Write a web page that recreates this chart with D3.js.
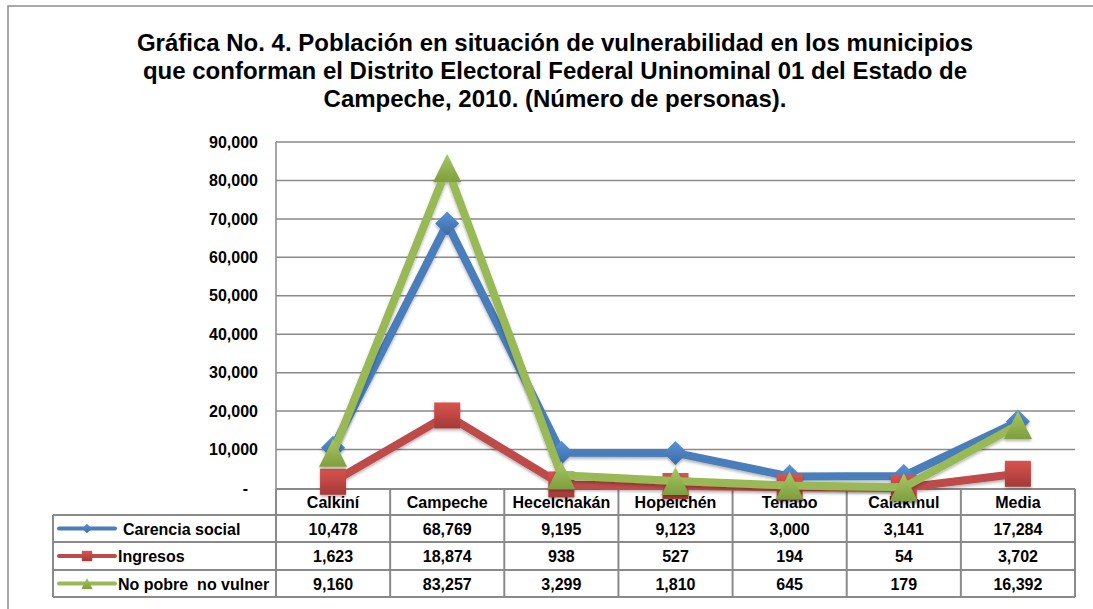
<!DOCTYPE html>
<html>
<head>
<meta charset="utf-8">
<script src="https://cdn.jsdelivr.net/npm/d3@7"></script>
<style>
  body { margin: 0; background: #fff; }
  svg text { font-family: "Liberation Sans", Arial, sans-serif; font-weight: bold; fill: #000; }
</style>
</head>
<body>
<script>

// data
var categories = ["Calkiní", "Campeche", "Hecelchakán", "Hopelchén", "Tenabo", "Calakmul", "Media"];
var carencia = [10478, 68769, 9195, 9123, 3000, 3141, 17284];
var ingresos = [1623, 18874, 938, 527, 194, 54, 3702];
var noPobre = [9160, 83257, 3299, 1810, 645, 179, 16392];
var seriesNames = ["Carencia social", "Ingresos", "No pobre  no vulner"];
var yTicks = [0, 10000, 20000, 30000, 40000, 50000, 60000, 70000, 80000, 90000];
var titleLines = [
    "Gráfica No. 4. Población en situación de vulnerabilidad en los municipios",
    "que conforman el Distrito Electoral Federal Uninominal 01 del Estado de",
    "Campeche, 2010. (Número de personas)."
];

var w = 1093, h = 609;
var plot = {left: 276, right: 1075, top: 142, bottom: 488};
var tableLeft = 53;
var rowY = [489, 515, 542, 570, 597];

var series = [
    {name: seriesNames[0], values: carencia, line: "#4a7ebb", light: "#5b93d6", dark: "#3a6aa6", shape: "diamond"},
    {name: seriesNames[1], values: ingresos, line: "#be4b48", light: "#d9534f", dark: "#a33a37", shape: "square"},
    {name: seriesNames[2], values: noPobre, line: "#98b954", light: "#a6c863", dark: "#7f9e3e", shape: "triangle"}
];

var svg = d3.select("body").append("svg")
    .attr("width", w)
    .attr("height", h);

var defs = svg.append("defs");

series.forEach(function(s, i) {
    var g = defs.append("linearGradient")
        .attr("id", "grad" + i)
        .attr("x1", 0).attr("y1", 0).attr("x2", 0).attr("y2", 1);
    g.append("stop").attr("offset", "0%").attr("stop-color", s.light);
    g.append("stop").attr("offset", "100%").attr("stop-color", s.dark);
});

var shadow = defs.append("filter").attr("id", "shadow")
    .attr("x", "-20%").attr("y", "-20%").attr("width", "140%").attr("height", "140%");
shadow.append("feDropShadow")
    .attr("dx", 0).attr("dy", 2).attr("stdDeviation", 1.5)
    .attr("flood-color", "#000").attr("flood-opacity", 0.3);

// outer frame
svg.append("rect")
    .attr("x", 8).attr("y", 6)
    .attr("width", w).attr("height", h)
    .attr("fill", "none")
    .attr("stroke", "#8c8c8c")
    .attr("stroke-width", 1.5);

// title
svg.append("g").selectAll("text")
    .data(titleLines)
    .enter()
    .append("text")
    .attr("x", 555)
    .attr("y", function(d, i) { return 51 + i * 28; })
    .attr("text-anchor", "middle")
    .style("font-size", "24px")
    .text(function(d) { return d; });

var xScale = d3.scaleBand()
    .domain(categories)
    .range([plot.left, plot.right]);

var yScale = d3.scaleLinear()
    .domain([0, 90000])
    .range([plot.bottom, plot.top]);

// gridlines
svg.append("g").selectAll("line")
    .data(yTicks.slice(1))
    .enter()
    .append("line")
    .attr("x1", plot.left).attr("x2", plot.right)
    .attr("y1", function(d) { return yScale(d); })
    .attr("y2", function(d) { return yScale(d); })
    .attr("stroke", "#8a8a8a")
    .attr("stroke-width", 1.5);

// y axis
var yAxis = d3.axisLeft(yScale)
    .tickValues(yTicks)
    .tickSize(0)
    .tickPadding(18)
    .tickFormat(function(d) { return d === 0 ? "-" : d3.format(",")(d); });

var yAxisG = svg.append("g")
    .attr("transform", "translate(" + plot.left + ",0)")
    .call(yAxis);
yAxisG.select(".domain").remove();
yAxisG.selectAll("text")
    .style("font-size", "16px")
    .style("font-family", "'Liberation Sans', Arial, sans-serif")
    .style("font-weight", "bold")
    .attr("fill", "#000");
yAxisG.selectAll(".tick")
    .filter(function(d) { return d === 0; })
    .select("text")
    .attr("x", -28);

svg.append("line")
    .attr("x1", plot.left).attr("x2", plot.left)
    .attr("y1", plot.top).attr("y2", rowY[0])
    .attr("stroke", "#8a8a8a")
    .attr("stroke-width", 1.5);

// data table
var table = svg.append("g");
var border = "#8a8a8a";

// horizontal rules
rowY.forEach(function(y, i) {
    table.append("line")
        .attr("x1", i === 0 ? plot.left : tableLeft)
        .attr("x2", plot.right)
        .attr("y1", y).attr("y2", y)
        .attr("stroke", border)
        .attr("stroke-width", 2);
});

// vertical rules
var colEdges = categories.map(function(c) { return xScale(c); }).concat([plot.right]);
colEdges.forEach(function(x) {
    table.append("line")
        .attr("x1", x).attr("x2", x)
        .attr("y1", rowY[0]).attr("y2", rowY[4])
        .attr("stroke", border)
        .attr("stroke-width", 2);
});
table.append("line")
    .attr("x1", tableLeft).attr("x2", tableLeft)
    .attr("y1", rowY[1]).attr("y2", rowY[4])
    .attr("stroke", border)
    .attr("stroke-width", 2);

// header labels
table.selectAll(".cat")
    .data(categories)
    .enter()
    .append("text")
    .attr("class", "cat")
    .attr("x", function(d) { return xScale(d) + xScale.bandwidth() / 2; })
    .attr("y", rowY[0] + 19)
    .attr("text-anchor", "middle")
    .style("font-size", "16px")
    .text(function(d) { return d; });

// value cells + legend keys
series.forEach(function(s, i) {
    var top = rowY[i + 1], bot = rowY[i + 2];
    var mid = (top + bot) / 2;

    table.selectAll(".v" + i)
        .data(s.values)
        .enter()
        .append("text")
        .attr("class", "v" + i)
        .attr("x", function(d, j) { return xScale(categories[j]) + xScale.bandwidth() / 2; })
        .attr("y", mid + 6)
        .attr("text-anchor", "middle")
        .style("font-size", "16px")
        .text(function(d) { return d3.format(",")(d); });

    table.append("line")
        .attr("x1", 59).attr("x2", 115)
        .attr("y1", mid).attr("y2", mid)
        .attr("stroke", s.line)
        .attr("stroke-width", 4)
        .attr("stroke-linecap", "round");
    table.append("path")
        .attr("d", markerPath(s.shape, 0.4))
        .attr("transform", "translate(87," + mid + ")")
        .attr("fill", "url(#grad" + i + ")");

    table.append("text")
        .attr("x", i === 0 ? 123 : 118)
        .attr("y", mid + 6)
        .style("font-size", "16px")
        .style("white-space", "pre")
        .text(s.name);
});

function markerPath(shape, k) {
    if (shape === "diamond") {
        var a = 12 * k;
        return "M0," + (-a) + "L" + a + ",0L0," + a + "L" + (-a) + ",0Z";
    } else if (shape === "square") {
        var b = 13 * k;
        return "M" + (-b) + "," + (-b) + "H" + b + "V" + b + "H" + (-b) + "Z";
    } else {
        var c = 14 * k;
        return "M0," + (-c) + "L" + c + "," + c + "L" + (-c) + "," + c + "Z";
    }
}

// lines and markers
var line = d3.line()
    .x(function(d, j) { return xScale(categories[j]) + xScale.bandwidth() / 2; })
    .y(function(d) { return yScale(d); });

series.forEach(function(s, i) {
    var g = svg.append("g").attr("filter", "url(#shadow)");
    g.append("path")
        .datum(s.values)
        .attr("d", line)
        .attr("fill", "none")
        .attr("stroke", s.line)
        .attr("stroke-width", 8)
        .attr("stroke-linejoin", "miter");

    g.selectAll(".m")
        .data(s.values)
        .enter()
        .append("path")
        .attr("d", markerPath(s.shape, 1))
        .attr("transform", function(d, j) {
            return "translate(" + (xScale(categories[j]) + xScale.bandwidth() / 2) + "," + yScale(d) + ")";
        })
        .attr("fill", "url(#grad" + i + ")");
});

</script>
</body>
</html>
